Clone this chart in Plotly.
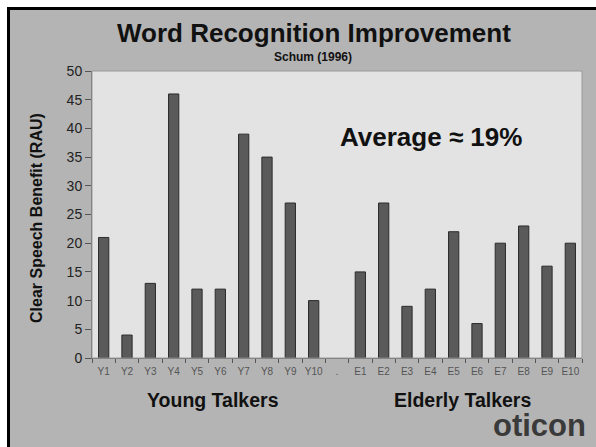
import plotly.graph_objects as go

# talkers and clear-speech benefit (RAU)
young_talkers = ['Y1', 'Y2', 'Y3', 'Y4', 'Y5', 'Y6', 'Y7', 'Y8', 'Y9', 'Y10']
young_benefit = [21, 4, 13, 46, 12, 12, 39, 35, 27, 10]
elderly_talkers = ['E1', 'E2', 'E3', 'E4', 'E5', 'E6', 'E7', 'E8', 'E9', 'E10']
elderly_benefit = [15, 27, 9, 12, 22, 6, 20, 23, 16, 20]
spacer_label = ['.']
spacer_value = [None]

categories = young_talkers + spacer_label + elderly_talkers
values = young_benefit + spacer_value + elderly_benefit

W, H = 596, 447
L, R, T, B = 92, 14, 71, 89
FONT = 'Liberation Sans, Arial, sans-serif'


def px_x(px):
  # pixel column -> paper x
  return (px - L) / (W - L - R)


def px_y(py):
  # pixel row -> paper y
  return (H - B - py) / (H - T - B)


def label(fig, text, x, y, size, color='#111111', bold=True, angle=0):
  if bold:
    text = '<b>' + text + '</b>'
  fig.add_annotation(text=text, x=px_x(x), y=px_y(y), xref='paper', yref='paper',
                     showarrow=False, xanchor='center', yanchor='middle', textangle=angle,
                     font=dict(family=FONT, size=size, color=color))


fig = go.Figure()
fig.add_trace(go.Bar(
    x=categories,
    y=values,
    marker_color='#5a5a5a',
    marker_line=dict(color='#2b2b2b', width=1),
))

fig.update_layout(
  width=W,
  height=H,
  margin=dict(l=L, r=R, t=T, b=B, pad=0),
  paper_bgcolor='#b4b4b4',
  plot_bgcolor='#e3e3e3',
  bargap=0.56,
  showlegend=False,
  font=dict(family=FONT),
)
fig.update_xaxes(
  type='category',
  showgrid=False,
  showline=True, linecolor='#6e6e6e', linewidth=1,
  ticks='outside', tickson='boundaries', ticklen=4, tickcolor='#555555',
  tickangle=0, ticklabelstandoff=4,
  tickfont=dict(size=10, color='#555555'),
)
fig.update_yaxes(
  range=[0, 50], dtick=5,
  showgrid=False, zeroline=False,
  showline=True, linecolor='#6e6e6e', linewidth=1,
  ticks='outside', ticklen=6, tickcolor='#555555',
  tickfont=dict(size=14, color='#222222'),
)

# plot area frame (top / right)
fig.add_shape(type='rect', xref='paper', yref='paper', x0=0, x1=1, y0=0, y1=1,
              line=dict(color='#9a9a9a', width=1), layer='above')
# white margin + black frame of the slide
fig.add_shape(type='rect', xref='paper', yref='paper', x0=px_x(-5), x1=px_x(7), y0=px_y(H + 5), y1=px_y(-5),
              fillcolor='white', line_width=0, layer='above')
fig.add_shape(type='rect', xref='paper', yref='paper', x0=px_x(-5), x1=px_x(W + 5), y0=px_y(7), y1=px_y(-5),
              fillcolor='white', line_width=0, layer='above')
fig.add_shape(type='line', xref='paper', yref='paper', x0=px_x(8.5), x1=px_x(8.5), y0=px_y(H + 2), y1=px_y(7),
              line=dict(color='black', width=3), layer='above')
fig.add_shape(type='line', xref='paper', yref='paper', x0=px_x(7), x1=px_x(W + 2), y0=px_y(8.5), y1=px_y(8.5),
              line=dict(color='black', width=3), layer='above')

label(fig, 'Word Recognition Improvement', 314, 33, 26)
label(fig, 'Schum (1996)', 313, 57, 12)
label(fig, 'Average \u2248 19%', 431, 137, 26)
label(fig, 'Clear Speech Benefit (RAU)', 36, 218, 16, angle=-90)
label(fig, 'Young Talkers', 213, 400, 19.5)
label(fig, 'Elderly Talkers', 462, 400, 19.5)
label(fig, 'oticon', 539, 425, 31, color='#3a3a3a')

# the page is photographed at exactly the figure size, so drop the body margin
fig.write_html('out.html', config={'displayModeBar': False},
               post_script="document.body.style.margin='0';")
